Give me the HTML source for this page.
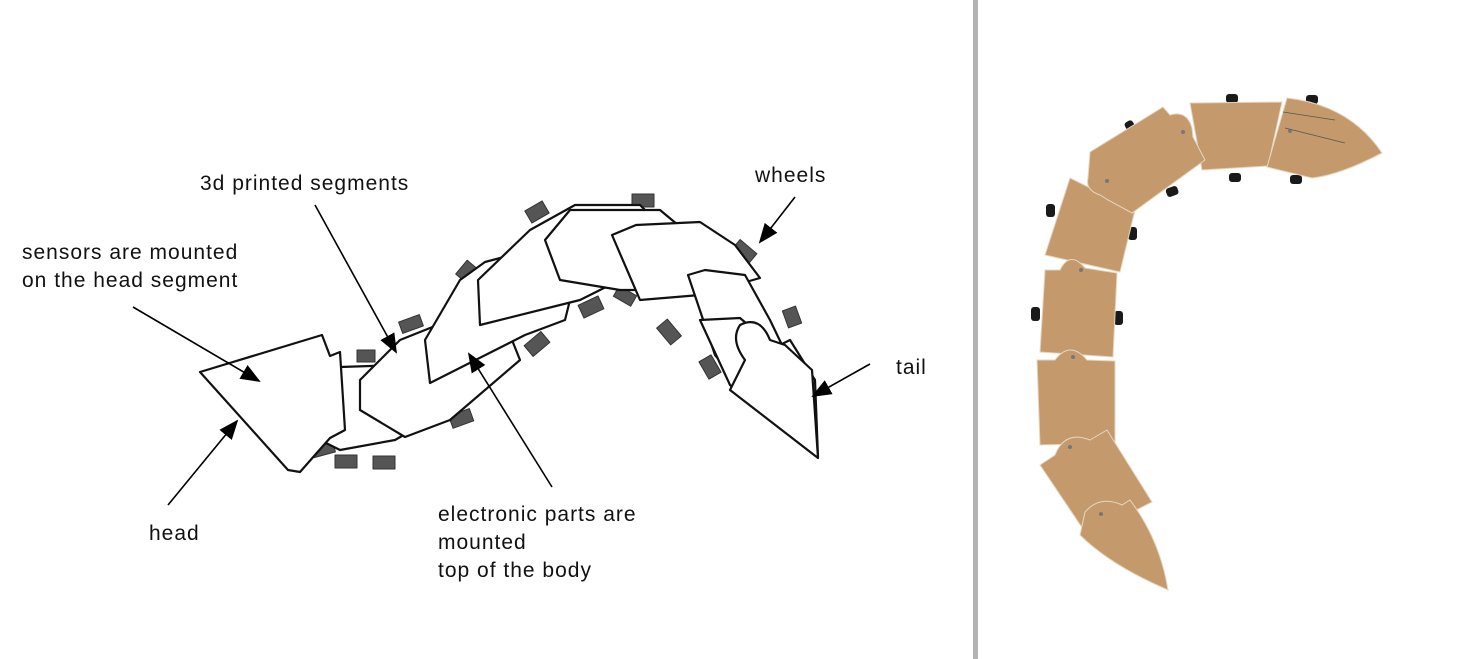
<!DOCTYPE html>
<html><head><meta charset="utf-8"><style>
html,body{margin:0;padding:0;background:#fff;width:1470px;height:659px;overflow:hidden}
svg{display:block}
text{font-family:"Liberation Sans",sans-serif;font-size:21px;letter-spacing:1px;fill:#111}
</style></head><body>
<svg width="1470" height="659" viewBox="0 0 1470 659" xmlns="http://www.w3.org/2000/svg">
<defs>
<marker id="b" markerWidth="20" markerHeight="20" refX="18" refY="10" orient="auto" markerUnits="userSpaceOnUse" viewBox="0 0 20 20"><path d="M0,2 L20,10 L0,18z" fill="#000"/></marker></defs>
<rect x="973" y="0" width="5" height="659" fill="#b3b3b3"/>
<g stroke="#111" stroke-width="2.2" fill="#fff" stroke-linejoin="round">
<g fill="#555" stroke="#333" stroke-width="1">
<rect x="527" y="205" width="20" height="14" transform="rotate(-30 537 212)"/>
<rect x="632" y="194" width="22" height="13"/>
<rect x="457" y="265" width="18" height="13" transform="rotate(-50 466 271)"/>
<rect x="400" y="318" width="22" height="12" transform="rotate(-20 411 324)"/>
<rect x="357" y="350" width="18" height="12"/>
<rect x="733" y="245" width="22" height="14" transform="rotate(40 744 252)"/>
<rect x="580" y="300" width="22" height="14" transform="rotate(-25 591 307)"/>
<rect x="526" y="337" width="22" height="14" transform="rotate(-40 537 344)"/>
<rect x="658" y="325" width="22" height="14" transform="rotate(50 669 332)"/>
<rect x="615" y="290" width="20" height="12" transform="rotate(30 625 296)"/>
<rect x="783" y="310" width="18" height="14" transform="rotate(70 792 317)"/>
<rect x="700" y="360" width="20" height="14" transform="rotate(60 710 367)"/>
<rect x="450" y="412" width="22" height="13" transform="rotate(-20 461 418)"/>
<rect x="312" y="442" width="22" height="13" transform="rotate(-15 323 448)"/>
<rect x="335" y="455" width="22" height="13"/>
<rect x="373" y="456" width="22" height="13"/>
</g>
<path d="M285,380 L340,367 L400,365 L430,420 L395,440 L340,450 L300,430 Z"/>
<rect x="310" y="392" width="18" height="16" fill="#555" stroke="none"/>
<path d="M200,372 L322,335 L330,356 L340,352 L345,430 L330,438 L300,472 L288,470 Z"/>
<path d="M360,380 L400,340 L450,320 L500,310 L520,360 L450,420 L405,437 L360,410 Z"/>
<path d="M425,340 L460,280 L485,262 L530,250 L580,260 L565,320 L525,335 L430,383 Z"/>
<path d="M478,280 L530,230 L575,205 L640,205 L660,225 L640,270 L580,300 L480,325 Z"/>
<path d="M545,240 L570,210 L660,210 L690,235 L680,290 L620,290 L560,280 Z"/>
<path d="M612,235 L636,225 L700,222 L735,245 L760,278 L700,295 L640,300 Z"/>
<path d="M688,275 L705,270 L745,275 L770,320 L782,345 L760,340 L740,385 L715,355 Z"/>
<path d="M700,320 L740,318 L760,335 L770,350 L790,340 L815,380 L818,457 L770,420 L730,385 Z"/>
<path d="M740,325 Q760,315 770,340 L785,345 L812,370 L818,458 L730,390 L745,360 Q730,340 740,325Z"/>
</g>
<g fill="none" stroke="#000" stroke-width="1.6">
<line x1="315" y1="205" x2="396" y2="352" marker-end="url(#b)"/>
<line x1="133" y1="307" x2="259" y2="381" marker-end="url(#b)"/>
<line x1="168" y1="505" x2="237" y2="421" marker-end="url(#b)"/>
<line x1="552" y1="487" x2="469" y2="354" marker-end="url(#b)"/>
<line x1="795" y1="197" x2="760" y2="242" marker-end="url(#b)"/>
<line x1="870" y1="364" x2="813" y2="396" marker-end="url(#b)"/>
</g>
<text x="200" y="190">3d printed segments</text>
<text x="22" y="259">sensors are mounted</text>
<text x="22" y="287">on the head segment</text>
<text x="149" y="540">head</text>
<text x="438" y="521">electronic parts are</text>
<text x="438" y="549">mounted</text>
<text x="438" y="577">top of the body</text>
<text x="755" y="182">wheels</text>
<text x="896" y="374">tail</text>
<g fill="#1a1a1a">
<rect x="1126" y="121" width="9" height="13" rx="3" transform="rotate(-30 1130 127)"/>
<rect x="1226" y="94" width="12" height="9" rx="3"/>
<rect x="1306" y="95" width="12" height="9" rx="3"/>
<rect x="1166" y="187" width="12" height="9" rx="3" transform="rotate(-20 1172 191)"/>
<rect x="1229" y="173" width="12" height="9" rx="3"/>
<rect x="1290" y="175" width="12" height="9" rx="3"/>
<rect x="1046" y="204" width="9" height="13" rx="3"/>
<rect x="1128" y="227" width="9" height="13" rx="3"/>
<rect x="1031" y="307" width="9" height="14" rx="3"/>
<rect x="1114" y="311" width="9" height="14" rx="3"/>
</g>
<g fill="#c49a6c" stroke="#e6d6c0" stroke-width="1">
<path d="M1070,178 L1135,210 L1120,272 L1045,255 Z"/>
<path d="M1190,103 L1282,102 L1268,166 L1202,170 Z"/>
<path d="M1287,98 Q1350,105 1382,153 Q1340,175 1312,178 L1267,167 Z"/>
<path d="M1090,152 L1163,107 L1170,115 Q1187,110 1192,128 L1193,137 L1205,160 L1132,213 L1108,200 L1100,195 Q1085,190 1088,178 Z"/>
<path d="M1045,270 L1060,270 Q1070,250 1085,268 L1117,273 L1113,357 L1040,352 Z"/>
<path d="M1037,360 L1055,360 Q1070,340 1087,360 L1115,361 L1115,443 L1040,445 Z"/>
<path d="M1040,465 L1055,455 Q1065,430 1090,440 L1107,430 L1152,502 L1087,535 Z"/>
<path d="M1085,512 Q1100,495 1122,505 L1130,500 Q1160,540 1168,590 Q1110,565 1080,535 Z"/>
</g>
<g fill="#777"><circle cx="1183" cy="132" r="2"/><circle cx="1107" cy="181" r="2"/><circle cx="1081" cy="270" r="2"/><circle cx="1073" cy="357" r="2"/><circle cx="1070" cy="447" r="2"/><circle cx="1101" cy="514" r="2"/><circle cx="1290" cy="131" r="2"/></g>
<g stroke="#555" stroke-width="0.8"><line x1="1283" y1="112" x2="1335" y2="120"/><line x1="1285" y1="128" x2="1345" y2="143"/></g>
</svg>
</body></html>
